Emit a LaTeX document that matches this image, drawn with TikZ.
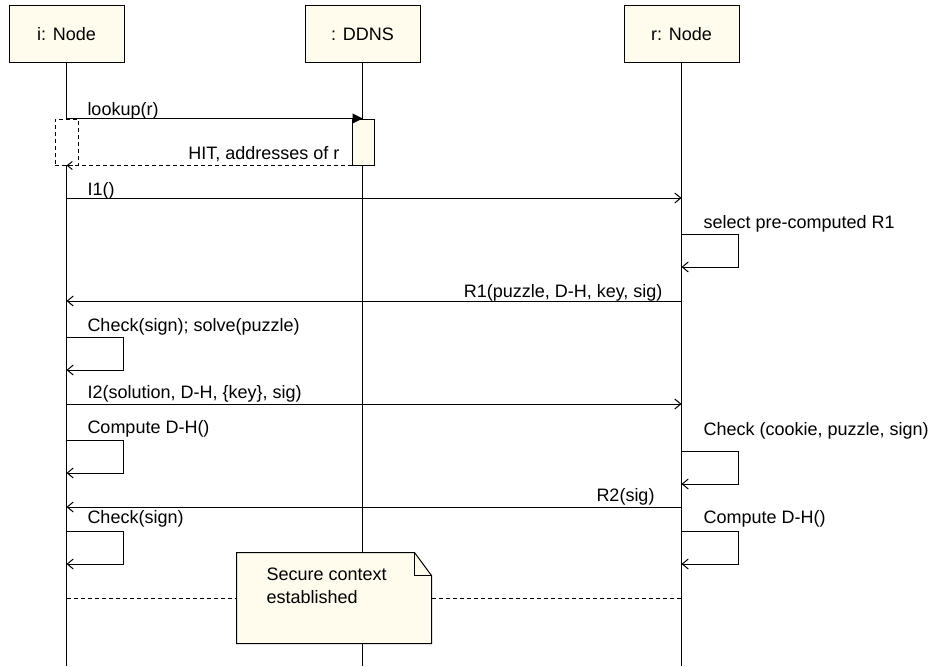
\documentclass[tikz,border=0pt]{standalone}
\usepackage{fontspec}
\setmainfont{Liberation Sans}
\usetikzlibrary{calc,arrows.meta}
\definecolor{notecream}{RGB}{255,252,238}
\tikzstyle{objbox}=[rectangle,draw=black,fill=notecream,
                    minimum width=115pt,minimum height=57pt,inner sep=0pt]
\tikzstyle{actbox}=[rectangle,draw=black,fill=notecream,
                    minimum width=22pt,minimum height=46pt,inner sep=0pt]
\tikzstyle{notebox}=[rectangle,minimum width=194pt,minimum height=90pt,inner sep=0pt]
\tikzstyle{msglabel}=[inner sep=0pt]
\tikzstyle{msg}=[-{Straight Barb[length=6pt,width=10pt]}]
\tikzstyle{callmsg}=[-{Triangle[length=10pt,width=10pt]}]
\tikzstyle{retmsg}=[dash pattern=on 4pt off 3pt,-{Straight Barb[length=5pt,width=8pt]}]
\newcommand\selfcall[2]{\draw [msg] (#1 |- 0,#2) -- ++(57,0) -- ++(0,33) -- ++(-57,0);}

\begin{document}
\begin{tikzpicture}[x=1pt,y=-1pt,line width=1pt,font=\fontsize{18}{23}\selectfont]
    \useasboundingbox (0,0) rectangle (941,666);
    % objects
    \node [objbox] (inode) at (66.5,34.5) {i: Node};
    \node [objbox] (ddns) at (362.5,34.5) {: DDNS};
    \node [objbox] (rnode) at (681.5,34.5) {r: Node};
    \coordinate (iend) at (inode.south |- 0,666);
    \coordinate (dend) at (ddns.south |- 0,666);
    \coordinate (rend) at (rnode.south |- 0,666);
    % lifelines
    \draw (inode.south) -- (inode.south |- 0,119);
    \draw (inode.south |- 0,165) -- (iend);
    \draw (ddns.south) -- (dend);
    \draw (rnode.south) -- (rend);
    \node [actbox,fill=none,minimum width=23pt,dash pattern=on 4pt off 3pt] (iact) at (66.5,142) {};
    \node [actbox] (dact) at (363,142) {};

    % lookup
    \draw [callmsg] (inode.south |- dact.north) -- (ddns.south |- dact.north);
    \node [msglabel,anchor=base west] (lookuplbl) at (87,115) {lookup(r)};
    \draw [retmsg] (dact.south west) -- (inode.south |- dact.south);
    \node [msglabel,anchor=base east] (hitlbl) at (340,159) {HIT, addresses of r};

    % I1 / R1
    \draw [msg] (inode.south |- 0,198) -- (rnode.south |- 0,198);
    \node [msglabel,anchor=base west] (ionelbl) at (87,195) {I1()};
    \selfcall{rnode.south}{234}
    \node [msglabel,anchor=base west] (selectlbl) at (703,228) {select pre-computed R1};
    \draw [msg] (rnode.south |- 0,301) -- (inode.south |- 0,301);
    \node [msglabel,anchor=base east] (ronelbl) at (663,297) {R1(puzzle, D-H, key, sig)};
    \selfcall{inode.south}{337}
    \node [msglabel,anchor=base west] (solvelbl) at (87,331) {Check(sign); solve(puzzle)};

    % I2 / R2
    \draw [msg] (inode.south |- 0,404) -- (rnode.south |- 0,404);
    \node [msglabel,anchor=base west] (itwolbl) at (87,398) {I2(solution, D-H, \{key\}, sig)};
    \selfcall{inode.south}{440}
    \node [msglabel,anchor=base west] (icomplbl) at (87,433) {Compute D-H()};
    \selfcall{rnode.south}{451}
    \node [msglabel,anchor=base west] (cookielbl) at (703,435) {Check (cookie, puzzle, sign)};
    \draw [msg] (rnode.south |- 0,507) -- (inode.south |- 0,507);
    \node [msglabel,anchor=base east] (rtwolbl) at (655,501) {R2(sig)};
    \selfcall{inode.south}{531}
    \node [msglabel,anchor=base west] (ichecklbl) at (87,523) {Check(sign)};
    \selfcall{rnode.south}{531}
    \node [msglabel,anchor=base west] (rcomplbl) at (703,523) {Compute D-H()};

    % secure context note
    \node [notebox] (note) at (334,598) {};
    \draw [dash pattern=on 4pt off 3pt] (inode.south |- note.west) -- (note.west);
    \draw [dash pattern=on 4pt off 3pt] (note.east) -- (rnode.south |- note.east);
    \draw [fill=notecream] (note.north west) -- ($(note.north east)+(-17,0)$)
        -- ($(note.north east)+(0,23)$) -- (note.south east) -- (note.south west) -- cycle;
    \draw ($(note.north east)+(-17,0)$) -- ($(note.north east)+(-17,23)$)
        -- ($(note.north east)+(0,23)$);
    \node [msglabel,anchor=north west,align=left] (notetext) at (266,567) {Secure context\\established};
\end{tikzpicture}
\end{document}
